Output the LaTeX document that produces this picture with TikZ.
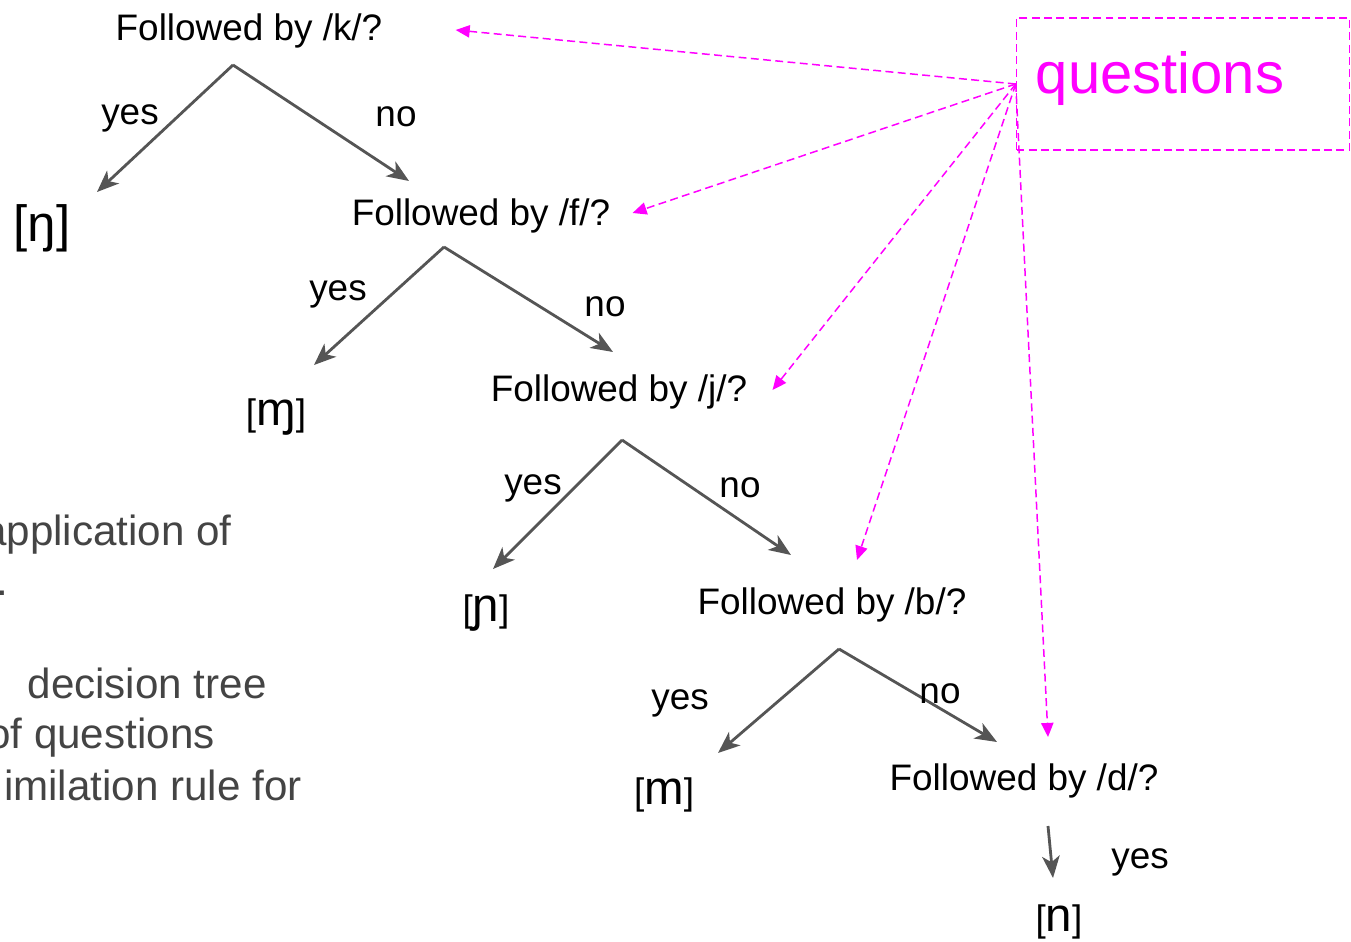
\documentclass[tikz,border=0pt]{standalone}
\usepackage{fontspec}
\setmainfont{Liberation Sans}
\usetikzlibrary{arrows.meta, calc}
\definecolor{treegray}{HTML}{555555}
\definecolor{slidegray}{HTML}{444444}
\definecolor{notemagenta}{RGB}{255,0,255}
\tikzset{
    my-question/.style={
        font=\fontsize{21}{25}\selectfont, inner sep=0pt
    },
    my-answer/.style={
        font=\fontsize{21}{25}\selectfont, inner sep=0pt, yshift=-2.2pt
    },
    my-leaf/.style={
        font=\fontsize{21}{25}\selectfont, inner sep=0pt, yshift=-2.2pt
    },
    my-branch/.style={
        draw=treegray, line width=1.6pt, -{Stealth[length=12.5pt, width=10pt, inset=3.5pt]}
    },
    my-pointer/.style={
        draw=notemagenta, line width=0.85pt, dash pattern=on 4.5pt off 2.5pt,
        -{Triangle[length=8pt, width=7pt]}
    },
    my-note-box/.style={
        draw=notemagenta, line width=0.85pt, dash pattern=on 4.5pt off 2.5pt,
        minimum width=333*0.02cm, minimum height=132*0.02cm, inner sep=0pt
    },
    my-slide-text/.style={
        font=\fontsize{24}{28}\selectfont, text=slidegray, inner sep=0pt, anchor=base east
    },
}
\newcommand{\bigipa}[1]{{\fontsize{27}{30}\selectfont #1}}

\begin{document}
\begin{tikzpicture}[x=0.02cm, y=-0.02cm]

        \useasboundingbox (0,0) rectangle (1351,942);
        \clip (0,0) rectangle (1351,942);

        % SLIDE TEXT (CUT OFF AT THE LEFT)
        \node[my-slide-text] (S1) at (232,545) {application of};
        \node[my-slide-text] (S2) at (9,595)   {.};
        \node[my-slide-text] (S3) at (267,698) {decision tree};
        \node[my-slide-text] (S4) at (215,748) {of questions};
        \node[my-slide-text] (S5) at (302,800) {imilation rule for};

        % QUESTIONS
        \node[my-question] (KQ) at (249,31)               {Followed by /k/?};
        \node[my-question] (FQ) at ($(KQ) + (232,185)$)   {Followed by /f/?};
        \node[my-question] (JQ) at ($(FQ) + (138,176)$)   {Followed by /j/?};
        \node[my-question] (BQ) at ($(JQ) + (213,213)$)   {Followed by /b/?};
        \node[my-question] (DQ) at ($(BQ) + (192,176)$)   {Followed by /d/?};

        % SPLIT POINTS AND ARROW ENDS
        \coordinate (KSPLIT) at ($(KQ) + (-16,34)$);
        \coordinate (KYES)   at ($(KSPLIT) + (-136,127)$);
        \coordinate (KNO)    at ($(KSPLIT) + (176,116)$);
        \coordinate (FSPLIT) at ($(FQ) + (-37,31)$);
        \coordinate (FYES)   at ($(FSPLIT) + (-130,118)$);
        \coordinate (FNO)    at ($(FSPLIT) + (169,105)$);
        \coordinate (JSPLIT) at ($(JQ) + (3,48)$);
        \coordinate (JYES)   at ($(JSPLIT) + (-129,129)$);
        \coordinate (JNO)    at ($(JSPLIT) + (169,115)$);
        \coordinate (BSPLIT) at ($(BQ) + (7,44)$);
        \coordinate (BYES)   at ($(BSPLIT) + (-121,104)$);
        \coordinate (BNO)    at ($(BSPLIT) + (158,93)$);
        \coordinate (DSPLIT) at ($(DQ) + (24,45)$);
        \coordinate (DYES)   at ($(DSPLIT) + (5,52)$);

        % BRANCHES
        \draw[my-branch] (KSPLIT) -- (KYES);
        \draw[my-branch] (KSPLIT) -- (KNO);
        \draw[my-branch] (FSPLIT) -- (FYES);
        \draw[my-branch] (FSPLIT) -- (FNO);
        \draw[my-branch] (JSPLIT) -- (JYES);
        \draw[my-branch] (JSPLIT) -- (JNO);
        \draw[my-branch] (BSPLIT) -- (BYES);
        \draw[my-branch] (BSPLIT) -- (BNO);
        \draw[my-branch] (DSPLIT) -- (DYES);

        % LABELS
        \node[my-answer] at ($(KSPLIT) + (-103,50)$) {yes};
        \node[my-answer] at ($(KSPLIT) + (163,48)$)  {no};
        \node[my-answer] at ($(FSPLIT) + (-106,44)$) {yes};
        \node[my-answer] at ($(FSPLIT) + (161,56)$)  {no};
        \node[my-answer] at ($(JSPLIT) + (-89,45)$)  {yes};
        \node[my-answer] at ($(JSPLIT) + (118,44)$)  {no};
        \node[my-answer] at ($(BSPLIT) + (-159,51)$) {yes};
        \node[my-answer] at ($(BSPLIT) + (101,41)$)  {no};
        \node[my-answer] at ($(DSPLIT) + (92,33)$)   {yes};

        % LEAVES
        \node[my-leaf, font=\fontsize{29}{32}\selectfont] (NG) at ($(KYES) + (-55,32)$) {[ŋ]};
        \node[my-leaf] (MJ) at ($(FYES) + (-38,48)$) {[\bigipa{ɱ}]};
        \node[my-leaf] (NJ) at ($(JYES) + (-7,40)$)  {[\bigipa{ɲ}]};
        \node[my-leaf] (M)  at ($(BYES) + (-54,38)$) {[\bigipa{m}]};
        \node[my-leaf] (N)  at ($(DYES) + (6,40)$)   {[\bigipa{n}]};

        % NOTE BOX
        \node[my-note-box] (QBOX) at (1183,84) {};
        \node[inner sep=0pt, text=notemagenta, font=\fontsize{33}{38}\selectfont] (QTEXT)
            at ($(QBOX) + (-23,-5)$) {questions};

        % POINTERS
        \coordinate (KPTR) at ($(KQ.east) + (73,-1)$);
        \coordinate (FPTR) at ($(FQ.east) + (22,-3)$);
        \coordinate (JPTR) at ($(JQ.east) + (25,-2)$);
        \coordinate (BPTR) at ($(BQ) + (25,-45)$);
        \coordinate (DPTR) at ($(DQ) + (24,-44)$);
        \draw[my-pointer] (QBOX.west) -- (KPTR);
        \draw[my-pointer] (QBOX.west) -- (FPTR);
        \draw[my-pointer] (QBOX.west) -- (JPTR);
        \draw[my-pointer] (QBOX.west) -- (BPTR);
        \draw[my-pointer] (QBOX.west) -- (DPTR);

\end{tikzpicture}
\end{document}
